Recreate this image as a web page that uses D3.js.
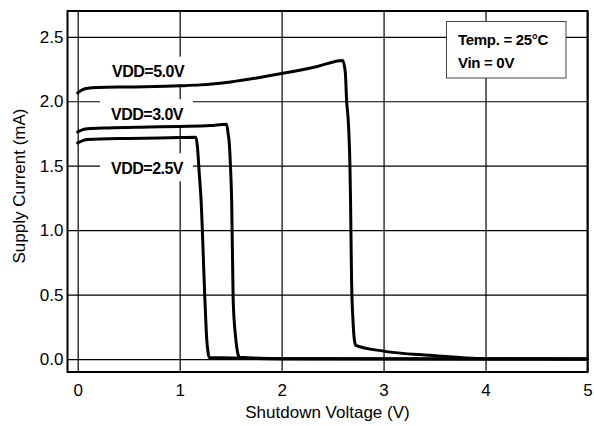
<!DOCTYPE html>
<html>
<head>
<meta charset="utf-8">
<script src="https://cdn.jsdelivr.net/npm/d3@7"></script>
<style>
  html, body { margin: 0; padding: 0; background: #fff; }
  svg { display: block; font-family: "Liberation Sans", Arial, Helvetica, sans-serif; }
</style>
</head>
<body>
<svg id="chart" width="594" height="426"></svg>
<script>
// ---- data ----
const seriesNames = ["VDD=5.0V", "VDD=3.0V", "VDD=2.5V"];
const vdd50 = [[0,2.065],[0.05,2.09],[0.1,2.10],[0.2,2.106],[0.5,2.111],[1.0,2.12],[1.2,2.127],[1.5,2.15],[2.0,2.215],[2.35,2.27],[2.6,2.316],[2.625,2.22],[2.637,2.01],[2.653,1.855],[2.67,1.5],[2.676,1.23],[2.686,0.61],[2.70,0.30],[2.712,0.16],[2.728,0.106],[3.0,0.062],[3.45,0.029],[4.0,0.003],[5.0,0.0]];
const vdd30 = [[0,1.762],[0.05,1.78],[0.1,1.787],[0.3,1.793],[0.7,1.80],[1.0,1.805],[1.3,1.812],[1.46,1.822],[1.475,1.75],[1.487,1.674],[1.50,1.466],[1.51,1.233],[1.525,0.456],[1.55,0.16],[1.57,0.045],[1.585,0.015],[2.0,0.003],[5.0,0.0]];
const vdd25 = [[0,1.677],[0.05,1.695],[0.1,1.703],[0.5,1.712],[1.0,1.718],[1.16,1.72],[1.175,1.64],[1.19,1.466],[1.21,1.233],[1.248,0.456],[1.265,0.16],[1.28,0.045],[1.29,0.012],[2.0,0.003],[5.0,0.0]];
const labelPos = [[0.69,2.23],[0.68,1.90],[0.68,1.48]]; // label centers in data units
const xTicks = [0,1,2,3,4,5];
const yTicks = [0,0.5,1.0,1.5,2.0,2.5];
const xTitle = "Shutdown Voltage (V)";
const yTitle = "Supply Current (mA)";
const legendLines = ["Temp. = 25°C", "Vin = 0V"];

// ---- layout ----
const svg = d3.select("#chart");
const L = 67.5, R = 587.5, T = 11, B = 372;
const x = d3.scaleLinear().domain([-0.1, 5]).range([L, R]);
const y = d3.scaleLinear().domain([-0.1, 2.7]).range([B, T]);

// grid + tick labels via axes
const gx = svg.append("g").attr("transform", `translate(0,${B})`)
  .call(d3.axisBottom(x).tickValues(xTicks).tickSize(-(B - T)).tickPadding(12).tickFormat(d3.format("d")));
const gy = svg.append("g").attr("transform", `translate(${L},0)`)
  .call(d3.axisLeft(y).tickValues(yTicks).tickSize(-(R - L)).tickPadding(4).tickFormat(d3.format(".1f")));
[gx, gy].forEach(g => {
  g.select(".domain").remove();
  g.selectAll(".tick line").attr("stroke", "#000").attr("stroke-width", 1.2);
  g.selectAll(".tick text").attr("fill", "#000").style("font-size", "17px")
   .style("font-family", '"Liberation Sans", Arial, sans-serif');
});

// label white backgrounds
const bgG = svg.append("g");
labelPos.forEach(p => {
  const cy = y(p[1]);
  bgG.append("rect").attr("x", 100).attr("y", cy - 15).attr("width", 93).attr("height", 28).attr("fill", "#fff");
});

// curves
const line = d3.line().x(d => x(d[0])).y(d => y(d[1])).curve(d3.curveMonotoneX);
[vdd50, vdd30, vdd25].forEach(s => {
  svg.append("path").datum(s).attr("d", line)
    .attr("fill", "none").attr("stroke", "#000").attr("stroke-width", 3)
    .attr("stroke-linejoin", "round").attr("stroke-linecap", "round");
});

// labels
seriesNames.forEach((n, i) => {
  svg.append("text").attr("x", x(labelPos[i][0])).attr("y", y(labelPos[i][1]) + 5.5)
    .attr("text-anchor", "middle").style("font-size", "16px").style("font-weight", "bold")
    .style("letter-spacing", "-0.5px").text(n);
});

// frame
svg.append("rect").attr("x", L).attr("y", T).attr("width", R - L).attr("height", B - T)
  .attr("fill", "none").attr("stroke", "#000").attr("stroke-width", 2);

// legend box
const lg = svg.append("g");
lg.append("rect").attr("x", 446.5).attr("y", 21.5).attr("width", 119.5).attr("height", 56.5)
  .attr("fill", "#fff").attr("stroke", "#444").attr("stroke-width", 1);
legendLines.forEach((t, i) => {
  lg.append("text").attr("x", 458).attr("y", 45 + i * 22.5)
    .style("font-size", "15px").style("font-weight", "bold").style("letter-spacing", "-0.3px").text(t);
});

// axis titles
svg.append("text").attr("x", 327.5).attr("y", 418).attr("text-anchor", "middle")
  .style("font-size", "17px").text(xTitle);
svg.append("text").attr("transform", "translate(24.5,186) rotate(-90)").attr("text-anchor", "middle")
  .style("font-size", "17px").text(yTitle);
</script>
</body>
</html>
